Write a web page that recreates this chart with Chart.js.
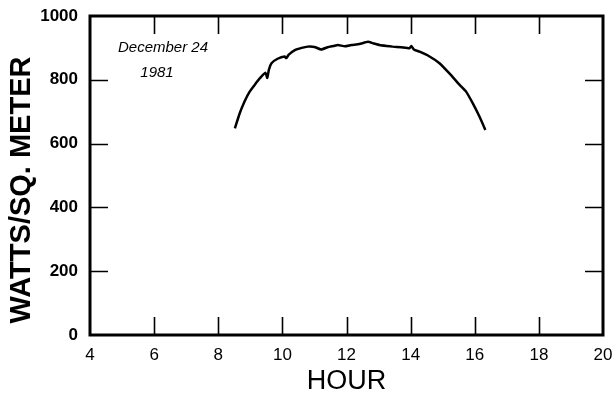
<!DOCTYPE html>
<html>
<head>
<meta charset="utf-8">
<script src="https://cdn.jsdelivr.net/npm/chart.js@4.4.0/dist/chart.umd.min.js"></script>
<style>
  html, body { margin: 0; padding: 0; background: #fff; }
  #wrap { width: 615px; height: 402px; }
</style>
</head>
<body>
<div id="wrap"><canvas id="canvasSun"></canvas></div>
<script>
// solar irradiance, December 24 1981
var hours = [8.52, 8.67, 8.82, 8.98, 9.15, 9.30, 9.47, 9.53, 9.58, 9.66, 9.85, 10.07, 10.12, 10.2, 10.39, 10.6, 10.79, 11.0, 11.21, 11.41, 11.6, 11.73, 11.95, 12.15, 12.4, 12.67, 12.85, 13.03, 13.25, 13.44, 13.7, 13.97, 14.02, 14.1, 14.28, 14.59, 14.9, 15.21, 15.53, 15.73, 15.94, 16.15, 16.33];
var watts = [648, 695, 732, 763, 786, 805, 822, 806, 832, 852, 866, 873, 868, 879, 893, 900, 904, 903, 895, 902, 906, 909, 905, 909, 912, 919, 914, 909, 906, 904, 902, 899, 906, 895, 888, 873, 852, 820, 784, 763, 726, 684, 643];
var xTicks = [4, 6, 8, 10, 12, 14, 16, 18, 20];
var yTicks = [0, 200, 400, 600, 800, 1000];
var innerX = [6, 8, 10, 12, 14, 16, 18];
var innerY = [200, 400, 600, 800];

var points = [];
for (var i in hours) {
  points.push({x: hours[i], y: watts[i]});
}

// frame, inward tick marks and the free texts
var framePlugin = {
  id: 'frame',
  afterDraw: function(chart) {
    var c = chart.ctx, a = chart.chartArea;
    var xs = chart.scales.x, ys = chart.scales.y;
    c.save();
    c.strokeStyle = '#000';
    c.lineWidth = 3;
    c.strokeRect(a.left, a.top, a.right - a.left, a.bottom - a.top);
    c.lineWidth = 1.6;
    c.beginPath();
    innerX.forEach(function(h) {
      var px = Math.round(xs.getPixelForValue(h)) + 0.5;
      c.moveTo(px, a.bottom); c.lineTo(px, a.bottom - 18);
      c.moveTo(px, a.top); c.lineTo(px, a.top + 18);
    });
    innerY.forEach(function(v) {
      var py = Math.round(ys.getPixelForValue(v)) + 0.5;
      c.moveTo(a.left, py); c.lineTo(a.left + 18, py);
      c.moveTo(a.right, py); c.lineTo(a.right - 18, py);
    });
    c.stroke();
    c.fillStyle = '#000';
    c.font = 'italic 15px "Liberation Sans", Arial, sans-serif';
    c.textAlign = 'center';
    c.textBaseline = 'middle';
    c.fillText('December 24', 163, 48);
    c.fillText('1981', 157, 73);
    // y axis title
    c.translate(22, 190);
    c.rotate(-Math.PI / 2);
    c.font = 'bold 29px "Liberation Sans", Arial, sans-serif';
    c.fillText('WATTS/SQ. METER', 0, 0);
    c.restore();
  }
};

var ctx = document.getElementById('canvasSun');
var chart = new Chart(ctx, {
  type: 'line',
  data: {
    datasets: [{
      data: points,
      borderColor: '#000',
      borderWidth: 2.5,
      pointRadius: 0,
      tension: 0.15,
      fill: false
    }]
  },
  options: {
    responsive: true,
    maintainAspectRatio: false,
    animation: false,
    layout: { padding: { top: 16, right: 12, left: 0, bottom: 0 } },
    plugins: { legend: { display: false }, tooltip: { enabled: false } },
    scales: {
      x: {
        type: 'linear',
        min: 4, max: 20,
        afterBuildTicks: function(s) { s.ticks = xTicks.map(function(v) { return {value: v}; }); },
        afterFit: function(s) { s.height = 67; },
        grid: { display: false },
        border: { display: false },
        ticks: {
          color: '#000', padding: 2, maxRotation: 0,
          font: { family: '"Liberation Sans Narrow", "Liberation Sans", Arial', size: 17 }
        },
        title: {
          display: true, text: 'HOUR', color: '#000', padding: { top: -6 },
          font: { family: '"Liberation Sans", Arial', size: 27 }
        }
      },
      y: {
        min: 0, max: 1000,
        afterBuildTicks: function(s) { s.ticks = yTicks.map(function(v) { return {value: v}; }); },
        afterFit: function(s) { s.width = 90; },
        grid: { display: false },
        border: { display: false },
        ticks: {
          color: '#000', padding: 4,
          callback: function(v) { return String(v); },
          font: { family: '"Liberation Sans Narrow", "Liberation Sans", Arial', size: 17, weight: 'bold' }
        },
        title: { display: false }
      }
    }
  },
  plugins: [framePlugin]
});
</script>
</body>
</html>
